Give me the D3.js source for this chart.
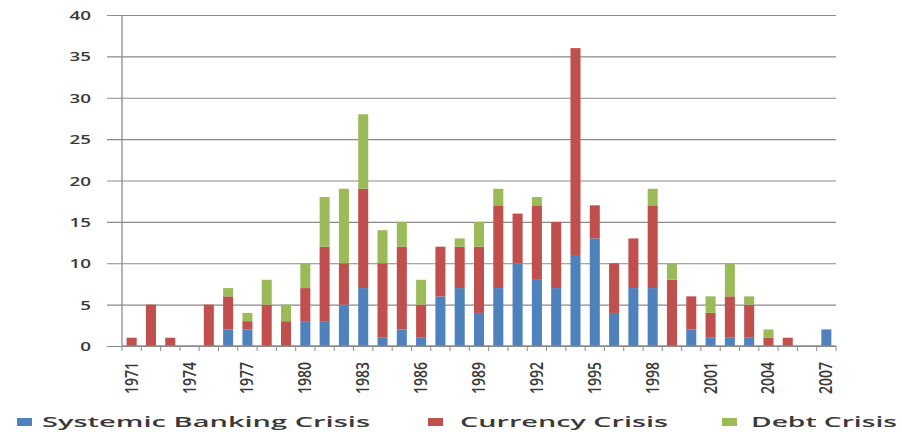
<!DOCTYPE html>
<html>
<head>
<meta charset="utf-8">
<script src="https://cdn.jsdelivr.net/npm/d3@7"></script>
<style>
  html, body { margin: 0; padding: 0; background: #fff; }
  svg { display: block; }
  text { font-family: "Open Sans", "DejaVu Sans", sans-serif; fill: #3a3a3a; }
</style>
</head>
<body>
<svg id="chart" width="902" height="435"></svg>
<script>
// Number of crisis episodes per year, by type
const years = d3.range(1971, 2008);
const banking  = [0,0,0,0,0,2,2,0,0,3,3,5,7,1,2,1,6,7,4,7,10,8,7,11,13,4,7,7,0,2,1,1,1,0,0,0,2];
const currency = [1,5,1,0,5,4,1,5,3,4,9,5,12,9,10,4,6,5,8,10,6,9,8,25,4,6,6,10,8,4,3,5,4,1,1,0,0];
const debt     = [0,0,0,0,0,1,1,3,2,3,6,9,9,4,3,3,0,1,3,2,0,1,0,0,0,0,0,2,2,0,2,4,1,1,0,0,0];
const yTicks = [0, 5, 10, 15, 20, 25, 30, 35, 40];
const xLabelYears = [1971, 1974, 1977, 1980, 1983, 1986, 1989, 1992, 1995, 1998, 2001, 2004, 2007];

const seriesNames  = ["Systemic Banking Crisis", "Currency Crisis", "Debt Crisis"];
const seriesKeys   = ["banking", "currency", "debt"];
const seriesColors = ["#4f81bd", "#c0504d", "#9bbb59"];

const rows = years.map((yr, i) => ({
  year: yr, banking: banking[i], currency: currency[i], debt: debt[i]
}));

const svg = d3.select("#chart");
const plotLeft = 122, plotRight = 836, plotTop = 15, plotBottom = 346;

const x = d3.scaleBand().domain(years).range([plotLeft, plotRight]).paddingInner(0.48).paddingOuter(0.24);
const y = d3.scaleLinear().domain([0, 40]).range([plotBottom, plotTop]);

// horizontal gridlines with labels
const yAxis = d3.axisLeft(y).tickValues(yTicks).tickSize(-(plotRight - 107)).tickPadding(0).tickFormat(d3.format("d"));
const gY = svg.append("g").attr("transform", `translate(107,0)`).call(yAxis);
gY.select(".domain").remove();
gY.selectAll(".tick line").attr("stroke", "#8a8a8a").attr("stroke-width", 1.2);
gY.selectAll(".tick text")
  .attr("x", 0).attr("dy", "0.35em")
  .attr("text-anchor", "end")
  .attr("font-size", 13).attr("font-weight", 600)
  .attr("transform", "translate(-16,0) scale(1.45,1)");

// vertical axis line
svg.append("line")
  .attr("x1", plotLeft).attr("x2", plotLeft).attr("y1", plotTop).attr("y2", plotBottom)
  .attr("stroke", "#8a8a8a").attr("stroke-width", 1.3);

// stacked bars
const stack = d3.stack().keys(seriesKeys)(rows);
svg.append("g").selectAll("g").data(stack).join("g")
  .attr("fill", (d, i) => seriesColors[i])
  .selectAll("rect").data(d => d).join("rect")
  .attr("x", d => x(d.data.year))
  .attr("width", x.bandwidth())
  .attr("y", d => y(d[1]))
  .attr("height", d => y(d[0]) - y(d[1]));

// category axis with tick marks between years
const step = x.step();
const gX = svg.append("g").attr("transform", `translate(0,${plotBottom})`);
gX.append("line").attr("x1", plotLeft).attr("x2", plotRight).attr("stroke", "#8a8a8a").attr("stroke-width", 1.3);
gX.selectAll("line.tk").data(d3.range(years.length + 1)).join("line")
  .attr("class", "tk")
  .attr("x1", i => plotLeft + i * step).attr("x2", i => plotLeft + i * step)
  .attr("y1", 0).attr("y2", 5)
  .attr("stroke", "#8a8a8a");
gX.selectAll("text").data(xLabelYears).join("text")
  .attr("transform", d => `translate(${x(d) + x.bandwidth() / 2 + 6},16) scale(1.3,1) rotate(-90)`)
  .attr("text-anchor", "end")
  .attr("font-size", 14)
  .attr("font-weight", 600)
  .text(d => d);

// legend
const legendItems = [
  { sx: 17, tx: 42, w: 328 },
  { sx: 428, tx: 460, w: 208 },
  { sx: 722, tx: 751, w: 146 }
];
const lg = svg.append("g").attr("transform", "translate(0,422)");
legendItems.forEach((it, i) => {
  lg.append("rect").attr("x", it.sx).attr("y", -4).attr("width", 15).attr("height", 8).attr("fill", seriesColors[i]);
  lg.append("text").attr("x", it.tx).attr("y", 5)
    .attr("font-size", 14).attr("font-weight", 600)
    .attr("textLength", it.w).attr("lengthAdjust", "spacingAndGlyphs")
    .text(seriesNames[i]);
});
</script>
</body>
</html>
